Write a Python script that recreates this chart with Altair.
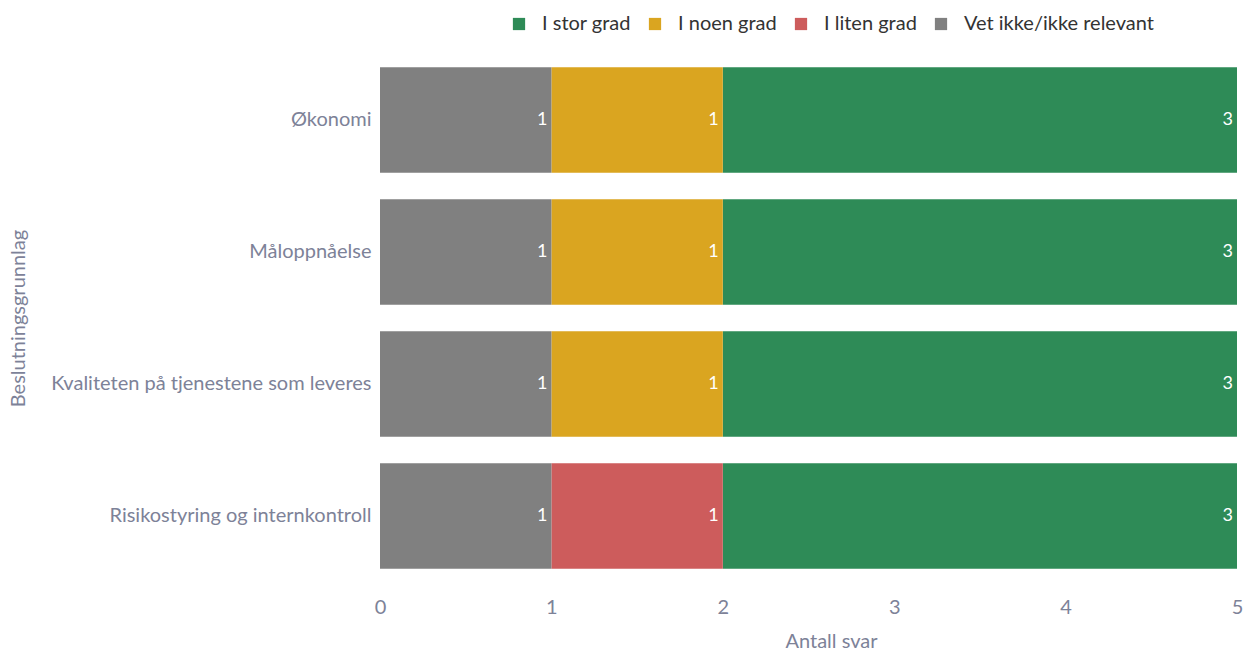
import altair as alt
import pandas as pd

categories = ["Økonomi", "Måloppnåelse", "Kvaliteten på tjenestene som leveres", "Risikostyring og internkontroll"]
series = ["I stor grad", "I noen grad", "I liten grad", "Vet ikke/ikke relevant"]
colors = ["#2e8b57", "#daa520", "#cd5c5c", "#808080"]
stack_order = {"Vet ikke/ikke relevant": 0, "I liten grad": 1, "I noen grad": 2, "I stor grad": 3}

values = {
    "I stor grad": [3, 3, 3, 3],
    "I noen grad": [1, 1, 1, 0],
    "I liten grad": [0, 0, 0, 1],
    "Vet ikke/ikke relevant": [1, 1, 1, 1],
}

rows = []
for s in series:
    for c, v in zip(categories, values[s]):
        if v > 0:
            rows.append({"kat": c, "serie": s, "antall": v, "ord": stack_order[s]})
df = pd.DataFrame(rows)

FONT = "Lato"
AXC = "#7d8298"
FS = 20

base = alt.Chart(df).encode(
    y=alt.Y("kat:N", sort=categories, title="Beslutningsgrunnlag",
            scale=alt.Scale(paddingInner=0.2, paddingOuter=0.1),
            axis=alt.Axis(labelFontSize=FS, labelColor=AXC, titleColor=AXC, titleFontSize=FS,
                          titleFontWeight="normal", domain=False, ticks=False, labelPadding=9,
                          labelLimit=500, titleX=-362, titleBaseline="middle",
                          labelFont=FONT, titleFont=FONT)),
)

bars = base.mark_bar().encode(
    x=alt.X("sum(antall):Q", stack="zero", title="Antall svar",
            scale=alt.Scale(domain=[0, 5], nice=False),
            axis=alt.Axis(values=[0, 1, 2, 3, 4, 5], format="d", grid=False, domain=False, ticks=False,
                          labelFlush=False,
                          labelFontSize=FS, labelColor=AXC, titleColor=AXC, titleFontSize=FS,
                          titleFontWeight="normal", labelPadding=15, titlePadding=14,
                          titleX=451, titleAnchor="middle",
                          labelFont=FONT, titleFont=FONT)),
    color=alt.Color("serie:N", sort=series, scale=alt.Scale(domain=series, range=colors),
                    legend=alt.Legend(orient="none", legendX=129, legendY=-40, direction="horizontal",
                                      title=None, symbolType="square", symbolSize=150,
                                      symbolStrokeWidth=0, labelFontSize=FS, labelColor="#333333",
                                      labelFont=FONT, labelLimit=400, columnPadding=14, labelOffset=13)),
    order=alt.Order("ord:Q"),
)

labels = base.transform_stack(
    stack="antall", groupby=["kat"], as_=["x0", "x1"], sort=[alt.SortField("ord", order="ascending")]
).mark_text(align="right", dx=-4, color="white", fontSize=18, font=FONT).encode(
    x=alt.X("x1:Q"),
    text=alt.Text("antall:Q"),
)

chart = (bars + labels).properties(
    width=857, height=528,
    autosize=alt.AutoSizeParams(type="none"),
    padding={"left": 380, "top": 54, "right": 13, "bottom": 69},
).configure(font=FONT).configure_view(stroke=None)

chart.save("out.html", embed_options={"renderer": "svg", "actions": False})
